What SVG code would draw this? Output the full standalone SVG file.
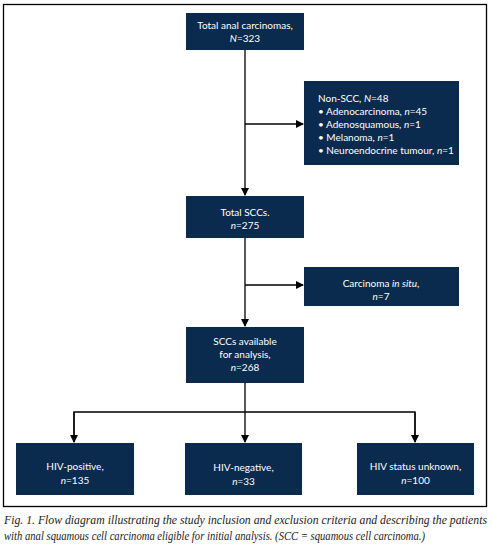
<svg xmlns="http://www.w3.org/2000/svg" width="492" height="544" viewBox="0 0 492 544">
<style>
.box{fill:#0b2b4e}
.t{font-family:Lato,"Liberation Sans",sans-serif;font-size:10px;fill:#fff;text-anchor:middle}
.tl{font-family:Lato,"Liberation Sans",sans-serif;font-size:10px;fill:#fff}
.ln{stroke:#000;stroke-width:1.3;fill:none}
.cap{font-family:"Liberation Serif",serif;font-style:italic;font-size:11.5px;fill:#222}
</style>
<defs>
<marker id="ah" markerWidth="8" markerHeight="8" refX="7" refY="4" orient="auto" markerUnits="userSpaceOnUse">
<path d="M0,0 L8,4 L0,8 Z" fill="#000"/>
</marker>
</defs>
<rect x="3.5" y="4.5" width="483" height="502" fill="none" stroke="#000" stroke-width="1.3"/>
<g id="connectors">
<line class="ln" x1="245" y1="50" x2="245" y2="195" marker-end="url(#ah)"/>
<line class="ln" x1="245" y1="124" x2="303" y2="124" marker-end="url(#ah)"/>
<line class="ln" x1="245" y1="238" x2="245" y2="326" marker-end="url(#ah)"/>
<line class="ln" x1="245" y1="285" x2="303" y2="285" marker-end="url(#ah)"/>
<line class="ln" x1="245" y1="383" x2="245" y2="442" marker-end="url(#ah)"/>
<polyline class="ln" points="74,442 74,412 415,412 415,442"/>
<line class="ln" x1="74" y1="412" x2="74" y2="442" marker-end="url(#ah)"/>
<line class="ln" x1="415" y1="412" x2="415" y2="442" marker-end="url(#ah)"/>
</g>
<g id="n_total">
<rect class="box" x="186" y="13" width="118" height="37"/>
<text class="t" x="245" y="29">Total anal carcinomas,</text>
<text class="t" x="245" y="42"><tspan font-style="italic">N</tspan>=323</text>
</g>
<g id="n_nonscc">
<rect class="box" x="304" y="81" width="155" height="84"/>
<text class="tl" x="318" y="102">Non-SCC, <tspan font-style="italic">N</tspan>=48</text>
<text class="tl" x="318" y="115">• Adenocarcinoma, <tspan font-style="italic">n</tspan>=45</text>
<text class="tl" x="318" y="128">• Adenosquamous, <tspan font-style="italic">n</tspan>=1</text>
<text class="tl" x="318" y="141">• Melanoma, <tspan font-style="italic">n</tspan>=1</text>
<text class="tl" x="318" y="154">• Neuroendocrine tumour, <tspan font-style="italic">n</tspan>=1</text>
</g>
<g id="n_totalscc">
<rect class="box" x="186" y="196" width="118" height="42"/>
<text class="t" x="245" y="216">Total SCCs.</text>
<text class="t" x="245" y="229"><tspan font-style="italic">n</tspan>=275</text>
</g>
<g id="n_insitu">
<rect class="box" x="304" y="267" width="155" height="39"/>
<text class="t" x="381" y="287">Carcinoma <tspan font-style="italic">in situ</tspan>,</text>
<text class="t" x="381" y="300"><tspan font-style="italic">n</tspan>=7</text>
</g>
<g id="n_available">
<rect class="box" x="186" y="327" width="118" height="56"/>
<text class="t" x="245" y="345">SCCs available</text>
<text class="t" x="245" y="358">for analysis,</text>
<text class="t" x="245" y="371"><tspan font-style="italic">n</tspan>=268</text>
</g>
<g id="n_pos">
<rect class="box" x="16" y="443" width="118" height="52"/>
<text class="t" x="75" y="470">HIV-positive,</text>
<text class="t" x="75" y="484"><tspan font-style="italic">n</tspan>=135</text>
</g>
<g id="n_neg">
<rect class="box" x="185" y="443" width="117" height="52"/>
<text class="t" x="243.5" y="471">HIV-negative,</text>
<text class="t" x="243.5" y="485"><tspan font-style="italic">n</tspan>=33</text>
</g>
<g id="n_unk">
<rect class="box" x="357" y="443" width="117" height="52"/>
<text class="t" x="415.5" y="470">HIV status unknown,</text>
<text class="t" x="415.5" y="484"><tspan font-style="italic">n</tspan>=100</text>
</g>
<text class="cap" x="4" y="524" textLength="483" lengthAdjust="spacingAndGlyphs">Fig. 1. Flow diagram illustrating the study inclusion and exclusion criteria and describing the patients</text>
<text class="cap" x="4" y="540" textLength="421" lengthAdjust="spacingAndGlyphs">with anal squamous cell carcinoma eligible for initial analysis. (SCC = squamous cell carcinoma.)</text>
</svg>
